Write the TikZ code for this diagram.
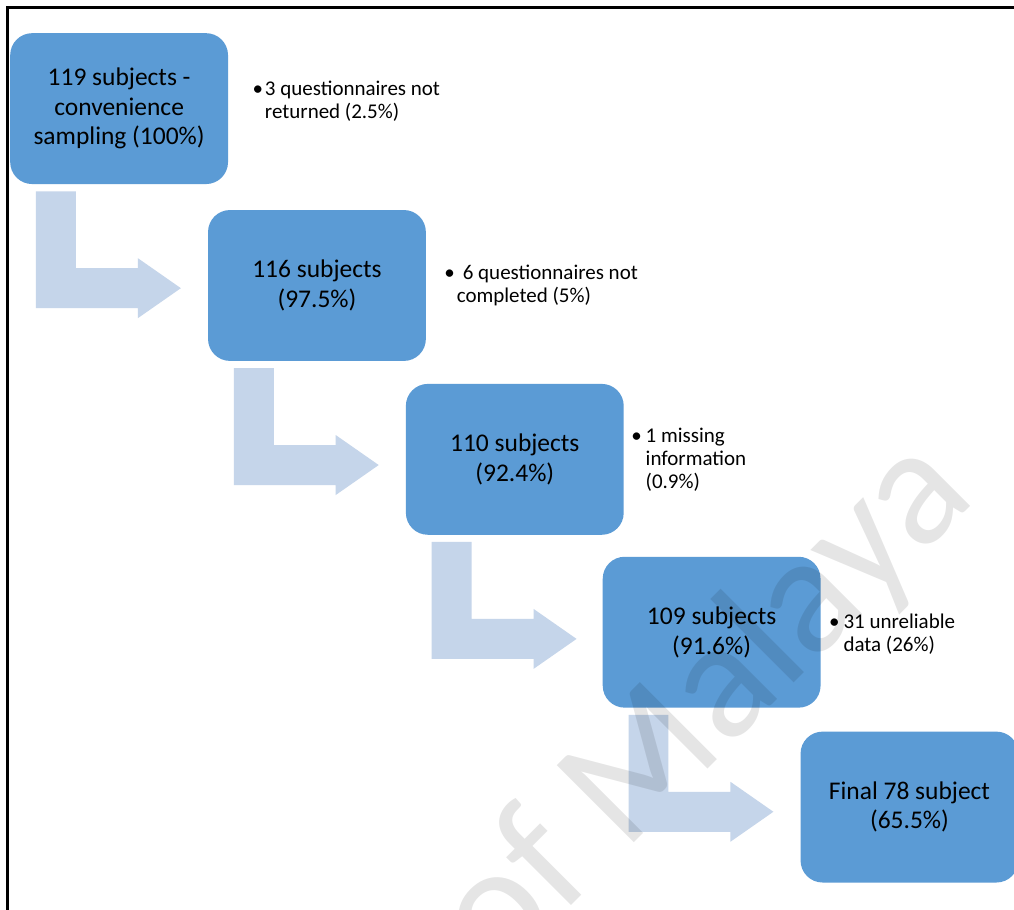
\documentclass[tikz,border=0pt]{standalone}
\usepackage{fontspec}
\setmainfont{Carlito}
\usetikzlibrary{calc}
\definecolor{boxblue}{RGB}{91,155,213}
\definecolor{arrowblue}{RGB}{197,213,234}
\begin{document}
\begin{tikzpicture}[x=1bp,y=-1bp,
  stage/.style={fill=boxblue, rounded corners=22bp, minimum width=218bp,
    minimum height=151bp, anchor=north west, align=center, inner sep=0pt,
    font=\fontsize{25.5bp}{29.5bp}\selectfont},
  noteline/.style={anchor=base west, inner sep=0pt,
    font=\fontsize{21bp}{23.5bp}\selectfont},
  bulletmark/.style={anchor=base, inner sep=0pt,
    font=\fontsize{21bp}{23.5bp}\selectfont},
  bentarrow/.pic={
    \fill[arrowblue] (26,7) -- (66,7) -- (66,84) -- (128,84) -- (128,74)
      -- (171,104) -- (128,134) -- (128,124) -- (26,124) -- cycle;}
]
% page area with a solid white ground
\useasboundingbox (0,0) rectangle (1014.8,910.7);
\fill[white] (-2,-2) rectangle (1017,913);
\clip (-2,-2) rectangle (1017,913);

% frame
\coordinate (fbl) at (7.5,912);
\coordinate (ftl) at (7.5,7.5);
\coordinate (ftr) at (1016,7.5);
\draw[line width=2.2bp] (fbl) -- (ftl) -- (ftr);

% stages
\node[stage] (s1) at (10,33)   {119 subjects -\\convenience\\sampling (100\%)};
\node[stage] (s2) at (208,210) {116 subjects\\(97.5\%)};
\node[stage] (s3) at (406,384) {110 subjects\\(92.4\%)};
\node[stage] (s4) at (603,557) {109 subjects\\(91.6\%)};
\node[stage] (s5) at (801,732) {Final 78 subject\\(65.5\%)};

% bent arrows between stages
\pic at (s1.south west) {bentarrow};
\pic at (s2.south west) {bentarrow};
\pic at (s3.south west) {bentarrow};
\pic at (s4.south west) {bentarrow};

% exclusion notes
\node[bulletmark] (b1) at (258,96) {•};
\node[noteline] (n1a) at (265,96)  {3 questionnaires not};
\node[noteline] (n1b) at (265,119) {returned (2.5\%)};

\node[bulletmark] (b2) at (450,280) {•};
\node[noteline] (n2a) at (463,280) {6 questionnaires not};
\node[noteline] (n2b) at (457,303) {completed (5\%)};

\node[bulletmark] (b3) at (637,443) {•};
\node[noteline] (n3a) at (646,443) {1 missing};
\node[noteline] (n3b) at (646,466) {information};
\node[noteline] (n3c) at (646,489) {(0.9\%)};

\node[bulletmark] (b4) at (835,629) {•};
\node[noteline] (n4a) at (844,629) {31 unreliable};
\node[noteline] (n4b) at (844,652) {data (26\%)};

% watermark
\node[anchor=base west, rotate=45, inner sep=0pt, text=black, text opacity=0.1,
  font=\fontsize{170bp}{170bp}\selectfont] (wm) at (498,980) {of Malaya};
\end{tikzpicture}
\end{document}
